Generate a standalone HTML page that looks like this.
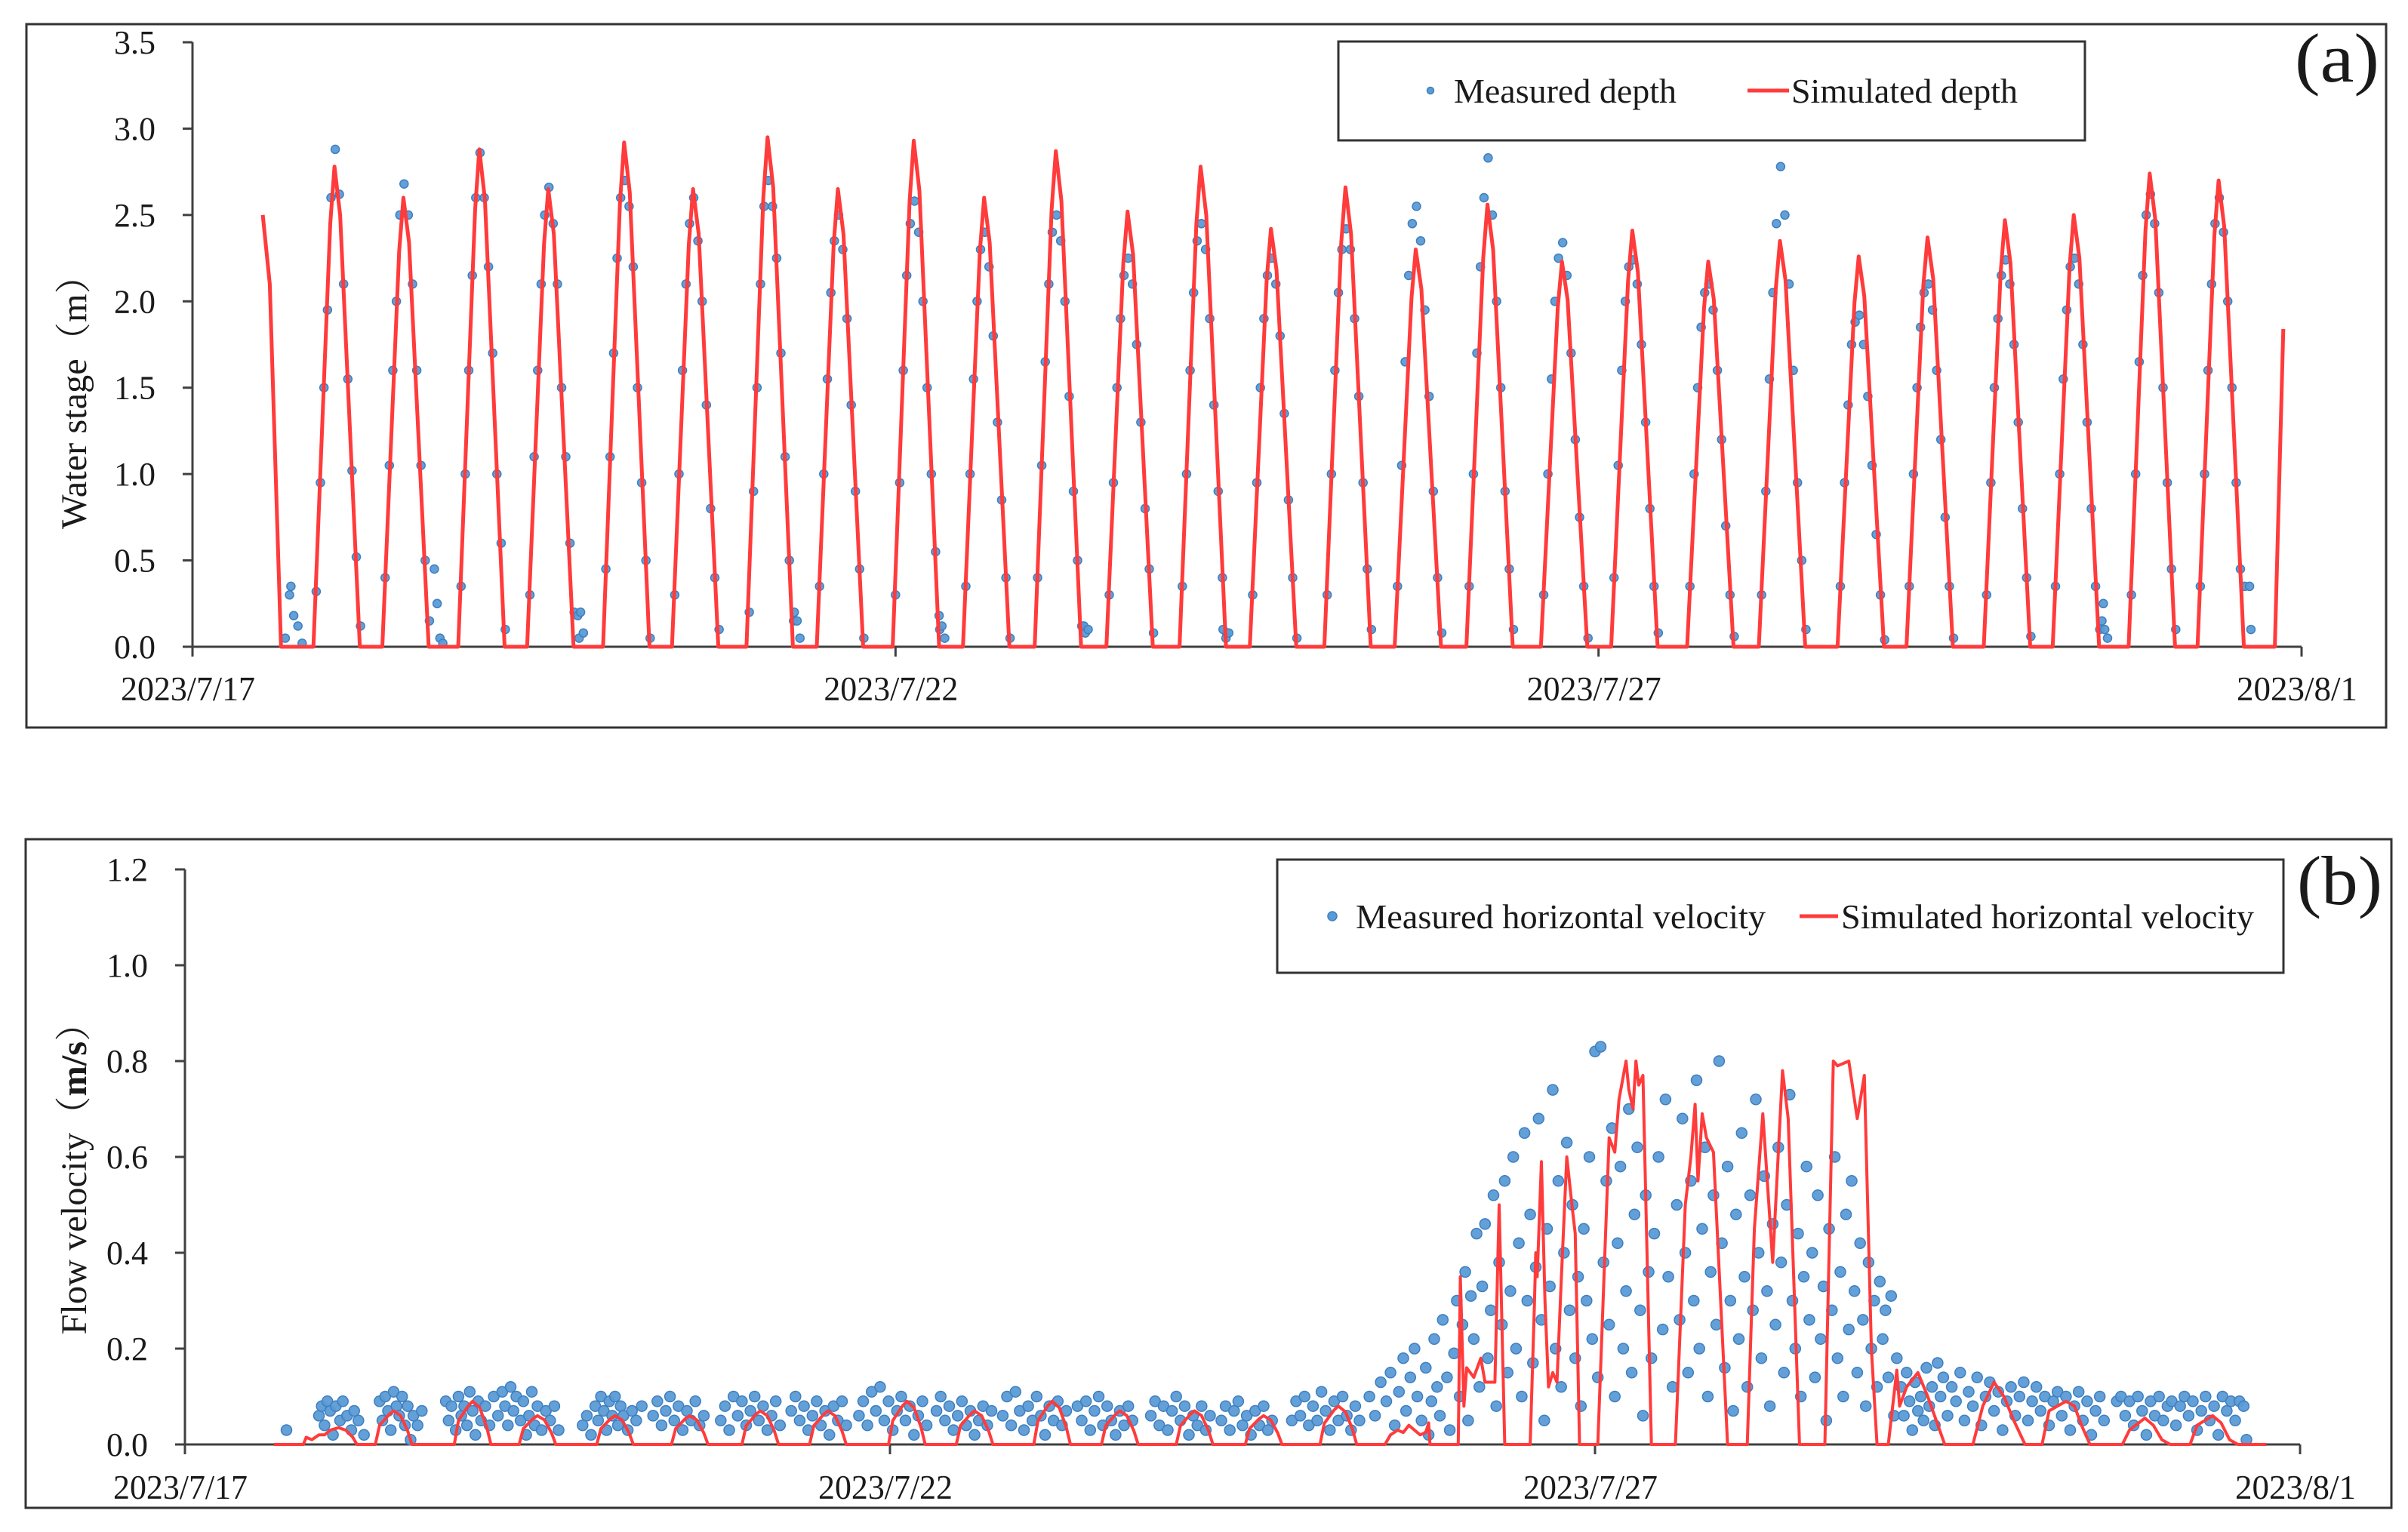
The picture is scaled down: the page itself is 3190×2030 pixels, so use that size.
<!DOCTYPE html>
<html><head><meta charset="utf-8"><title>Water stage and flow velocity</title>
<style>
html,body{margin:0;padding:0;background:#fff;}
svg{display:block;}
text{font-family:"Liberation Serif","Noto Serif CJK SC",serif;fill:#1a1a1a;}
</style></head>
<body>
<svg id="chart" width="3190" height="2030" viewBox="0 0 3190 2030" xmlns="http://www.w3.org/2000/svg">
  <rect x="0" y="0" width="3190" height="2030" fill="#fff"/>
  <g id="panelA">
    <rect x="35" y="32" width="3126" height="932" fill="none" stroke="#333" stroke-width="3"/>
    <text x="3040" y="108" font-size="92" textLength="112" lengthAdjust="spacingAndGlyphs">(a)</text>
    <text transform="translate(114,521) rotate(-90)" text-anchor="middle" font-size="48" textLength="360" lengthAdjust="spacingAndGlyphs">Water stage（m）</text>
    <g id="gA"></g>
    <g>
      <rect x="1773" y="55" width="989" height="131" fill="#fff" stroke="#333" stroke-width="3"/>
      <circle cx="1895" cy="120" r="4.5" fill="#5b9bd5" stroke="#3f7fc0" stroke-width="1.5"/>
      <text x="1926" y="136" font-size="46" textLength="295" lengthAdjust="spacingAndGlyphs">Measured depth</text>
      <line x1="2315" y1="120" x2="2370" y2="120" stroke="#ff3b3b" stroke-width="5"/>
      <text x="2373" y="136" font-size="46" textLength="300" lengthAdjust="spacingAndGlyphs">Simulated depth</text>
    </g>
  </g>
  <g id="panelB">
    <rect x="34" y="1112" width="3134" height="886" fill="none" stroke="#333" stroke-width="3"/>
    <text x="3043" y="1198" font-size="92" textLength="113" lengthAdjust="spacingAndGlyphs">(b)</text>
    <text transform="translate(114,1550) rotate(-90)" text-anchor="middle" font-size="48" textLength="437" lengthAdjust="spacingAndGlyphs">Flow velocity（<tspan font-weight="bold">m/s</tspan>）</text>
    <g id="gB"></g>
    <g>
      <rect x="1692" y="1139" width="1333" height="150" fill="#fff" stroke="#333" stroke-width="3"/>
      <circle cx="1765" cy="1214" r="6" fill="#5b9bd5" stroke="#3f7fc0" stroke-width="1.5"/>
      <text x="1796" y="1230" font-size="46" textLength="543" lengthAdjust="spacingAndGlyphs">Measured horizontal velocity</text>
      <line x1="2384" y1="1214" x2="2435" y2="1214" stroke="#ff3b3b" stroke-width="5"/>
      <text x="2439" y="1230" font-size="46" textLength="547" lengthAdjust="spacingAndGlyphs">Simulated horizontal velocity</text>
    </g>
  </g>
</svg>
<script>
// ---- data (x in days since 2023/7/17 00:00) ----
const dateLabels = ["2023/7/17","2023/7/22","2023/7/27","2023/8/1"];
const dateTicks = [0,5,10,15];
const depthTicks = [0,0.5,1.0,1.5,2.0,2.5,3.0,3.5];
const depthTickLabels = ["0.0","0.5","1.0","1.5","2.0","2.5","3.0","3.5"];
const velTicks = [0,0.2,0.4,0.6,0.8,1.0,1.2];
const velTickLabels = ["0.0","0.2","0.4","0.6","0.8","1.0","1.2"];

const simDepth = [[0.50,2.5],[0.55,2.1],[0.63,0],
[0.86,0],[0.98,2.45],[1.01,2.78],[1.05,2.50],[1.19,0],
[1.35,0],[1.47,2.29],[1.50,2.60],[1.54,2.34],[1.68,0],
[1.89,0],[2.01,2.53],[2.04,2.88],[2.08,2.59],[2.22,0],
[2.38,0],[2.50,2.33],[2.53,2.65],[2.57,2.39],[2.71,0],
[2.92,0],[3.04,2.57],[3.07,2.92],[3.11,2.63],[3.25,0],
[3.41,0],[3.53,2.33],[3.56,2.65],[3.60,2.39],[3.74,0],
[3.94,0],[4.06,2.60],[4.09,2.95],[4.13,2.66],[4.27,0],
[4.44,0],[4.56,2.33],[4.59,2.65],[4.63,2.39],[4.77,0],
[4.98,0],[5.10,2.58],[5.13,2.93],[5.17,2.64],[5.31,0],
[5.48,0],[5.60,2.29],[5.63,2.60],[5.67,2.34],[5.81,0],
[5.99,0],[6.11,2.53],[6.14,2.87],[6.18,2.58],[6.32,0],
[6.50,0],[6.62,2.22],[6.65,2.52],[6.69,2.27],[6.83,0],
[7.02,0],[7.14,2.45],[7.17,2.78],[7.21,2.50],[7.35,0],
[7.52,0],[7.64,2.13],[7.67,2.42],[7.71,2.18],[7.85,0],
[8.05,0],[8.17,2.34],[8.20,2.66],[8.24,2.39],[8.38,0],
[8.55,0],[8.67,2.02],[8.70,2.30],[8.74,2.07],[8.88,0],
[9.06,0],[9.18,2.25],[9.21,2.56],[9.25,2.30],[9.39,0],
[9.59,0],[9.71,1.96],[9.74,2.23],[9.78,2.01],[9.92,0],
[10.09,0],[10.21,2.12],[10.24,2.41],[10.28,2.17],[10.42,0],
[10.63,0],[10.75,1.96],[10.78,2.23],[10.82,2.01],[10.96,0],
[11.14,0],[11.26,2.07],[11.29,2.35],[11.33,2.12],[11.47,0],
[11.70,0],[11.82,1.99],[11.85,2.26],[11.89,2.03],[12.03,0],
[12.19,0],[12.31,2.09],[12.34,2.37],[12.38,2.13],[12.52,0],
[12.74,0],[12.86,2.17],[12.89,2.47],[12.93,2.22],[13.07,0],
[13.23,0],[13.35,2.20],[13.38,2.50],[13.42,2.25],[13.56,0],
[13.77,0],[13.89,2.41],[13.92,2.74],[13.96,2.47],[14.10,0],
[14.26,0],[14.38,2.38],[14.41,2.70],[14.45,2.43],[14.59,0],
[14.81,0],[14.87,1.84]];

const measDepth = [
[0.66,0.05],[0.69,0.30],[0.70,0.35],[0.72,0.18],[0.75,0.12],[0.78,0.02],
[0.88,0.32],[0.91,0.95],[0.935,1.5],[0.96,1.95],[0.985,2.6],[1.015,2.88],[1.045,2.62],[1.075,2.1],[1.105,1.55],[1.135,1.02],[1.165,0.52],[1.195,0.12],
[1.37,0.4],[1.40,1.05],[1.425,1.6],[1.45,2.0],[1.475,2.5],[1.505,2.68],[1.535,2.5],[1.565,2.1],[1.595,1.6],[1.625,1.05],[1.655,0.5],[1.685,0.15],
[1.72,0.45],[1.74,0.25],[1.76,0.05],[1.78,0.02],
[1.91,0.35],[1.94,1.0],[1.965,1.6],[1.99,2.15],[2.015,2.6],[2.045,2.86],[2.075,2.6],[2.105,2.2],[2.135,1.7],[2.165,1.0],[2.195,0.6],[2.225,0.1],
[2.40,0.3],[2.43,1.1],[2.455,1.6],[2.48,2.1],[2.505,2.5],[2.535,2.66],[2.565,2.45],[2.595,2.1],[2.625,1.5],[2.655,1.1],[2.685,0.6],[2.715,0.2],
[2.74,0.18],[2.75,0.05],[2.76,0.2],[2.78,0.08],
[2.94,0.45],[2.97,1.1],[2.995,1.7],[3.02,2.25],[3.045,2.6],[3.075,2.7],[3.105,2.55],[3.135,2.2],[3.165,1.5],[3.195,0.95],[3.225,0.5],[3.255,0.05],
[3.43,0.3],[3.46,1.0],[3.485,1.6],[3.51,2.1],[3.535,2.45],[3.565,2.6],[3.595,2.35],[3.625,2.0],[3.655,1.4],[3.685,0.8],[3.715,0.4],[3.745,0.1],
[3.96,0.2],[3.99,0.9],[4.015,1.5],[4.04,2.1],[4.065,2.55],[4.095,2.7],[4.125,2.55],[4.155,2.25],[4.185,1.7],[4.215,1.1],[4.245,0.5],[4.275,0.15],
[4.28,0.2],[4.30,0.15],[4.32,0.05],
[4.46,0.35],[4.49,1.0],[4.515,1.55],[4.54,2.05],[4.565,2.35],[4.595,2.5],[4.625,2.3],[4.655,1.9],[4.685,1.4],[4.715,0.9],[4.745,0.45],[4.775,0.05],
[5.00,0.3],[5.03,0.95],[5.055,1.6],[5.08,2.15],[5.105,2.45],[5.135,2.58],[5.165,2.4],[5.195,2.0],[5.225,1.5],[5.255,1.0],[5.285,0.55],[5.315,0.1],
[5.31,0.18],[5.33,0.12],[5.35,0.05],
[5.50,0.35],[5.53,1.0],[5.555,1.55],[5.58,2.0],[5.605,2.3],[5.635,2.4],[5.665,2.2],[5.695,1.8],[5.725,1.3],[5.755,0.85],[5.785,0.4],[5.815,0.05],
[6.01,0.4],[6.04,1.05],[6.065,1.65],[6.09,2.1],[6.115,2.4],[6.145,2.5],[6.175,2.35],[6.205,2.0],[6.235,1.45],[6.265,0.9],[6.295,0.5],[6.325,0.12],
[6.34,0.12],[6.35,0.08],[6.37,0.1],
[6.52,0.3],[6.55,0.95],[6.575,1.5],[6.60,1.9],[6.625,2.15],[6.655,2.25],[6.685,2.1],[6.715,1.75],[6.745,1.3],[6.775,0.8],[6.805,0.45],[6.835,0.08],
[7.04,0.35],[7.07,1.0],[7.095,1.6],[7.12,2.05],[7.145,2.35],[7.175,2.45],[7.205,2.3],[7.235,1.9],[7.265,1.4],[7.295,0.9],[7.325,0.4],[7.355,0.08],
[7.33,0.1],[7.35,0.05],[7.37,0.08],
[7.54,0.3],[7.57,0.95],[7.595,1.5],[7.62,1.9],[7.645,2.15],[7.675,2.25],[7.705,2.1],[7.735,1.8],[7.765,1.35],[7.795,0.85],[7.825,0.4],[7.855,0.05],
[8.07,0.3],[8.10,1.0],[8.125,1.6],[8.15,2.05],[8.175,2.3],[8.205,2.42],[8.235,2.3],[8.265,1.9],[8.295,1.45],[8.325,0.95],[8.355,0.45],[8.385,0.1],
[8.57,0.35],[8.60,1.05],[8.625,1.65],[8.65,2.15],[8.675,2.45],[8.705,2.55],[8.735,2.35],[8.765,1.95],[8.795,1.45],[8.825,0.9],[8.855,0.4],[8.885,0.08],
[9.08,0.35],[9.11,1.0],[9.135,1.7],[9.16,2.2],[9.185,2.6],[9.215,2.83],[9.245,2.5],[9.275,2.0],[9.305,1.5],[9.335,0.9],[9.365,0.45],[9.395,0.1],
[9.61,0.3],[9.64,1.0],[9.665,1.55],[9.69,2.0],[9.715,2.25],[9.745,2.34],[9.775,2.15],[9.805,1.7],[9.835,1.2],[9.865,0.75],[9.895,0.35],[9.925,0.05],
[10.11,0.4],[10.14,1.05],[10.165,1.6],[10.19,2.0],[10.215,2.2],[10.245,2.24],[10.275,2.1],[10.305,1.75],[10.335,1.3],[10.365,0.8],[10.395,0.35],[10.425,0.08],
[10.65,0.35],[10.68,1.0],[10.705,1.5],[10.73,1.85],[10.755,2.05],[10.785,2.1],[10.815,1.95],[10.845,1.6],[10.875,1.2],[10.905,0.7],[10.935,0.3],[10.965,0.06],
[11.16,0.3],[11.19,0.9],[11.215,1.55],[11.24,2.05],[11.265,2.45],[11.295,2.78],[11.325,2.5],[11.355,2.1],[11.385,1.6],[11.415,0.95],[11.445,0.5],[11.475,0.1],
[11.72,0.35],[11.75,0.95],[11.775,1.4],[11.80,1.75],[11.825,1.88],[11.855,1.92],[11.885,1.75],[11.915,1.45],[11.945,1.05],[11.975,0.65],[12.005,0.3],[12.035,0.04],
[12.21,0.35],[12.24,1.0],[12.265,1.5],[12.29,1.85],[12.315,2.05],[12.345,2.1],[12.375,1.95],[12.405,1.6],[12.435,1.2],[12.465,0.75],[12.495,0.35],[12.525,0.05],
[12.76,0.3],[12.79,0.95],[12.815,1.5],[12.84,1.9],[12.865,2.15],[12.895,2.24],[12.925,2.1],[12.955,1.75],[12.985,1.3],[13.015,0.8],[13.045,0.4],[13.075,0.06],
[13.25,0.35],[13.28,1.0],[13.305,1.55],[13.33,1.95],[13.355,2.2],[13.385,2.25],[13.415,2.1],[13.445,1.75],[13.475,1.3],[13.505,0.8],[13.535,0.35],[13.565,0.1],
[13.58,0.15],[13.59,0.25],[13.60,0.1],[13.62,0.05],
[13.79,0.3],[13.82,1.0],[13.845,1.65],[13.87,2.15],[13.895,2.5],[13.925,2.62],[13.955,2.45],[13.985,2.05],[14.015,1.5],[14.045,0.95],[14.075,0.45],[14.105,0.1],
[14.28,0.35],[14.31,1.0],[14.335,1.6],[14.36,2.1],[14.385,2.45],[14.415,2.6],[14.445,2.4],[14.475,2.0],[14.505,1.5],[14.535,0.95],[14.565,0.45],[14.595,0.35],
[14.63,0.35],[14.64,0.1]];

const simVel = [[0.63,0],[0.84,0],[0.86,0.015],[0.90,0.01],[0.95,0.02],
[0.99,0.02],[1.03,0.03],[1.09,0.035],[1.14,0.03],[1.19,0.015],[1.22,0],
[1.35,0],[1.38,0.04],[1.45,0.063],[1.48,0.07],[1.53,0.06],[1.58,0.028],[1.61,0],
[1.91,0],[1.94,0.05],[2.01,0.081],[2.04,0.09],[2.09,0.077],[2.14,0.036],[2.17,0],
[2.37,0],[2.40,0.033],[2.47,0.054],[2.50,0.06],[2.55,0.051],[2.60,0.024],[2.63,0],
[2.92,0],[2.95,0.033],[3.02,0.054],[3.05,0.06],[3.10,0.051],[3.15,0.024],[3.18,0],
[3.45,0],[3.48,0.033],[3.55,0.054],[3.58,0.06],[3.63,0.051],[3.68,0.024],[3.71,0],
[3.95,0],[3.98,0.039],[4.05,0.063],[4.08,0.07],[4.13,0.06],[4.18,0.028],[4.21,0],
[4.43,0],[4.46,0.039],[4.53,0.063],[4.56,0.07],[4.61,0.06],[4.66,0.028],[4.69,0],
[4.99,0],[5.02,0.05],[5.09,0.081],[5.12,0.09],[5.17,0.077],[5.22,0.036],[5.25,0],
[5.47,0],[5.50,0.039],[5.57,0.063],[5.60,0.07],[5.65,0.06],[5.70,0.028],[5.73,0],
[6.02,0],[6.05,0.05],[6.12,0.081],[6.15,0.09],[6.20,0.077],[6.25,0.036],[6.28,0],
[6.50,0],[6.53,0.039],[6.60,0.063],[6.63,0.07],[6.68,0.06],[6.73,0.028],[6.76,0],
[7.03,0],[7.06,0.039],[7.13,0.063],[7.16,0.07],[7.21,0.06],[7.26,0.028],[7.29,0],
[7.52,0],[7.55,0.033],[7.62,0.054],[7.65,0.06],[7.70,0.051],[7.75,0.024],[7.78,0],
[8.05,0],[8.08,0.044],[8.15,0.072],[8.18,0.08],[8.23,0.068],[8.28,0.032],[8.31,0],
[8.51,0],[8.55,0.02],[8.60,0.03],[8.64,0.025],[8.68,0.04],[8.72,0.03],[8.76,0.02],[8.80,0.025],[8.82,0.045],[8.83,0],
[9.03,0],[9.045,0.35],[9.07,0.08],[9.09,0.16],[9.14,0.14],[9.19,0.18],[9.22,0.13],[9.29,0.13],[9.32,0.50],[9.36,0],
[9.54,0],[9.57,0.29],[9.58,0.40],[9.59,0.35],[9.62,0.59],[9.645,0.30],[9.67,0.12],[9.70,0.15],[9.73,0.13],[9.76,0.34],[9.80,0.60],[9.84,0.49],[9.86,0.44],[9.89,0],
[10.02,0],[10.10,0.64],[10.14,0.61],[10.17,0.72],[10.22,0.80],[10.24,0.74],[10.27,0.70],[10.29,0.80],[10.31,0.75],[10.34,0.77],[10.40,0],
[10.57,0],[10.64,0.50],[10.68,0.60],[10.71,0.71],[10.73,0.55],[10.76,0.69],[10.79,0.64],[10.84,0.61],[10.94,0],
[11.08,0],[11.13,0.45],[11.19,0.69],[11.26,0.38],[11.33,0.78],[11.37,0.68],[11.45,0],
[11.63,0],[11.69,0.80],[11.72,0.79],[11.80,0.80],[11.86,0.68],[11.91,0.77],[11.96,0.2],[12.00,0],
[12.08,0],[12.14,0.155],[12.16,0.08],[12.21,0.12],[12.29,0.15],[12.36,0.10],[12.48,0],
[12.68,0],[12.75,0.08],[12.83,0.13],[12.90,0.10],[12.97,0.05],[13.05,0],
[13.17,0],[13.22,0.07],[13.34,0.09],[13.40,0.08],[13.45,0.04],[13.51,0],
[13.74,0],[13.79,0.03],[13.90,0.055],[13.96,0.04],[14.02,0.01],[14.08,0],
[14.22,0],[14.27,0.04],[14.38,0.06],[14.44,0.045],[14.50,0.01],[14.56,0],[14.76,0]];

const measVel = [
[0.72,.03],
[0.95,.06],[0.97,.08],[0.99,.04],[1.01,.09],[1.03,.07],[1.05,.02],[1.07,.08],[1.10,.05],[1.12,.09],[1.15,.06],[1.18,.03],[1.20,.07],[1.23,.05],[1.27,.02],
[1.38,.09],[1.40,.05],[1.42,.1],[1.44,.07],[1.46,.03],[1.48,.11],[1.50,.08],[1.52,.06],[1.54,.1],[1.56,.04],[1.58,.08],[1.60,.01],[1.62,.06],[1.65,.04],[1.68,.07],
[1.85,.09],[1.87,.05],[1.89,.08],[1.92,.03],[1.94,.1],[1.96,.06],[1.98,.08],[2.00,.04],[2.02,.11],[2.04,.07],[2.06,.02],[2.08,.09],[2.10,.05],[2.13,.08],[2.16,.04],[2.19,.1],[2.22,.06],
[2.25,.11],[2.27,.08],[2.29,.04],[2.31,.12],[2.33,.07],[2.35,.1],[2.38,.05],[2.40,.09],[2.42,.02],[2.44,.06],[2.46,.11],[2.48,.04],[2.50,.08],[2.53,.03],[2.56,.07],[2.59,.05],[2.62,.08],[2.65,.03],
[2.82,.04],[2.85,.06],[2.88,.02],[2.91,.08],[2.93,.05],[2.95,.1],[2.97,.07],[2.99,.03],[3.01,.09],[3.03,.06],[3.05,.1],[3.07,.04],[3.09,.08],[3.11,.06],[3.14,.03],[3.17,.07],[3.20,.05],[3.24,.08],
[3.32,.06],[3.35,.09],[3.38,.04],[3.41,.07],[3.44,.1],[3.47,.05],[3.50,.08],[3.53,.03],[3.56,.07],[3.59,.05],[3.62,.09],[3.65,.04],[3.68,.06],
[3.80,.05],[3.83,.08],[3.86,.03],[3.89,.1],[3.92,.06],[3.95,.09],[3.98,.04],[4.01,.07],[4.04,.1],[4.07,.05],[4.10,.08],[4.13,.03],[4.16,.06],[4.19,.09],[4.22,.04],
[4.30,.07],[4.33,.1],[4.36,.05],[4.39,.08],[4.42,.03],[4.45,.06],[4.48,.09],[4.51,.04],[4.54,.07],[4.57,.02],[4.60,.08],[4.63,.05],[4.66,.09],[4.69,.04],
[4.78,.06],[4.81,.09],[4.84,.04],[4.87,.11],[4.90,.07],[4.93,.12],[4.96,.05],[4.99,.09],[5.02,.03],[5.05,.07],[5.08,.1],[5.11,.05],[5.14,.08],[5.17,.02],[5.20,.06],[5.23,.09],[5.26,.04],
[5.33,.07],[5.36,.1],[5.39,.05],[5.42,.08],[5.45,.03],[5.48,.06],[5.51,.09],[5.54,.04],[5.57,.07],[5.60,.02],[5.63,.05],[5.66,.08],[5.69,.04],[5.72,.07],
[5.80,.06],[5.83,.1],[5.86,.04],[5.89,.11],[5.92,.07],[5.95,.03],[5.98,.08],[6.01,.05],[6.04,.1],[6.07,.06],[6.10,.02],[6.13,.08],[6.16,.05],[6.19,.09],[6.22,.04],[6.25,.07],
[6.33,.08],[6.36,.05],[6.39,.09],[6.42,.03],[6.45,.07],[6.48,.1],[6.51,.04],[6.54,.08],[6.57,.05],[6.60,.02],[6.63,.07],[6.66,.04],[6.69,.08],[6.72,.05],
[6.85,.06],[6.88,.09],[6.91,.04],[6.94,.08],[6.97,.03],[7.00,.07],[7.03,.1],[7.06,.05],[7.09,.08],[7.12,.02],[7.15,.06],[7.18,.04],[7.21,.08],[7.24,.03],[7.27,.06],
[7.35,.05],[7.38,.08],[7.41,.03],[7.44,.07],[7.47,.09],[7.50,.04],[7.53,.06],[7.56,.02],[7.59,.07],[7.62,.04],[7.65,.08],[7.68,.03],[7.71,.05],
[7.85,.05],[7.88,.09],[7.91,.06],[7.94,.1],[7.97,.04],[8.00,.08],[8.03,.05],[8.06,.11],[8.09,.07],[8.12,.03],[8.15,.09],[8.18,.05],[8.21,.1],[8.24,.06],[8.27,.03],[8.30,.08],[8.33,.05],
[8.40,.1],[8.44,.06],[8.48,.13],[8.52,.09],[8.55,.15],[8.58,.04],[8.61,.11],[8.64,.18],[8.66,.07],[8.69,.14],[8.72,.2],[8.74,.1],[8.77,.05],[8.80,.16],[8.82,.02],[8.84,.09],[8.86,.22],[8.88,.12],[8.90,.06],[8.92,.26],[8.95,.14],[8.97,.03],
[9.00,.19],[9.02,.30],[9.04,.10],[9.06,.25],[9.08,.36],[9.10,.05],[9.12,.31],[9.14,.22],[9.16,.44],[9.18,.12],[9.20,.33],[9.22,.46],[9.24,.18],[9.26,.28],[9.28,.52],[9.30,.08],[9.32,.38],[9.34,.25],[9.36,.55],[9.38,.15],[9.40,.32],[9.42,.60],[9.44,.20],[9.46,.42],[9.48,.10],[9.50,.65],[9.52,.30],[9.54,.48],[9.56,.17],[9.58,.37],[9.60,.68],[9.62,.26],[9.64,.05],[9.66,.45],[9.68,.33],[9.70,.74],[9.72,.20],[9.74,.55],[9.76,.12],[9.78,.40],[9.80,.63],[9.82,.28],[9.84,.50],[9.86,.18],[9.88,.35],[9.90,.08],[9.92,.45],[9.94,.30],[9.96,.60],[9.98,.22],
[10.00,.82],[10.02,.14],[10.04,.83],[10.06,.38],[10.08,.55],[10.10,.25],[10.12,.66],[10.14,.10],[10.16,.42],[10.18,.58],[10.20,.20],[10.22,.32],[10.24,.70],[10.26,.15],[10.28,.48],[10.30,.62],[10.32,.28],[10.34,.06],[10.36,.52],[10.38,.36],[10.40,.18],[10.42,.44],[10.45,.60],[10.48,.24],[10.50,.72],[10.52,.35],[10.55,.12],[10.58,.50],[10.60,.26],[10.62,.68],[10.64,.40],[10.66,.15],[10.68,.55],[10.70,.30],[10.72,.76],[10.74,.20],[10.76,.45],[10.78,.62],[10.80,.10],[10.82,.36],[10.84,.52],[10.86,.25],[10.88,.80],[10.90,.42],[10.92,.16],[10.94,.58],[10.96,.30],[10.98,.07],
[11.00,.48],[11.02,.22],[11.04,.65],[11.06,.35],[11.08,.12],[11.10,.52],[11.12,.28],[11.14,.72],[11.16,.40],[11.18,.18],[11.20,.56],[11.22,.32],[11.24,.08],[11.26,.46],[11.28,.25],[11.30,.62],[11.32,.38],[11.34,.15],[11.36,.50],[11.38,.73],[11.40,.30],[11.42,.20],[11.44,.44],[11.46,.10],[11.48,.35],[11.50,.58],[11.52,.26],[11.54,.40],[11.56,.14],[11.58,.52],[11.60,.22],[11.62,.33],[11.64,.05],[11.66,.45],[11.68,.28],[11.70,.60],[11.72,.18],[11.74,.36],[11.76,.10],[11.78,.48],[11.80,.24],[11.82,.55],[11.84,.32],[11.86,.15],[11.88,.42],[11.90,.26],[11.92,.08],[11.94,.38],[11.96,.20],[11.98,.30],
[12.00,.12],[12.02,.34],[12.04,.22],[12.06,.28],[12.08,.14],[12.10,.31],[12.12,.06],[12.14,.18],
[12.17,.12],[12.19,.06],[12.21,.15],[12.23,.09],[12.25,.03],[12.27,.13],[12.29,.07],[12.31,.1],[12.33,.05],[12.35,.16],[12.37,.08],[12.39,.12],[12.41,.04],[12.43,.17],[12.45,.1],[12.47,.14],[12.50,.06],[12.53,.12],[12.56,.09],[12.59,.15],[12.62,.05],[12.65,.11],[12.68,.08],[12.71,.14],[12.74,.04],[12.77,.1],[12.80,.13],[12.83,.07],[12.86,.11],[12.89,.03],[12.92,.09],[12.95,.12],[12.98,.06],
[13.01,.1],[13.04,.13],[13.07,.05],[13.10,.09],[13.13,.12],[13.16,.07],[13.19,.1],[13.22,.04],[13.25,.09],[13.28,.11],[13.31,.06],[13.34,.1],[13.37,.03],[13.40,.08],[13.43,.11],[13.46,.05],[13.49,.09],[13.52,.02],[13.55,.07],[13.58,.1],[13.61,.05],
[13.70,.09],[13.73,.1],[13.76,.06],[13.79,.09],[13.82,.04],[13.85,.1],[13.88,.07],[13.91,.02],[13.94,.09],[13.97,.06],[14.00,.1],[14.03,.05],[14.06,.08],[14.09,.09],[14.12,.04],[14.15,.08],[14.18,.1],[14.21,.06],[14.24,.09],[14.27,.03],[14.30,.07],[14.33,.1],[14.36,.05],[14.39,.08],[14.42,.02],[14.45,.1],[14.48,.07],[14.51,.09],[14.54,.05],[14.57,.09],[14.60,.08],[14.62,.01]];

// ---- rendering ----
const NS = "http://www.w3.org/2000/svg";
function mk(tag, attrs, parent){
  const e = document.createElementNS(NS, tag);
  for (const k in attrs) e.setAttribute(k, attrs[k]);
  parent.appendChild(e);
  return e;
}
function drawPanel(g, cfg){
  const xs = d => cfg.x0 + (d - 0) * (cfg.x1 - cfg.x0) / 15;
  const ys = v => cfg.yBase - v * (cfg.yBase - cfg.yTop) / cfg.vMax;
  const ya = mk("line", {x1:cfg.x0, y1:cfg.yTop, x2:cfg.x0, y2:cfg.yBase, stroke:"#404040", "stroke-width":3}, g);
  
  
  const xa = mk("line", {x1:cfg.x0, y1:cfg.yBase, x2:cfg.x1, y2:cfg.yBase, stroke:"#404040", "stroke-width":3}, g);
  
  
  cfg.yTicks.forEach((v, i) => {
    const t = mk("line", {x1:cfg.x0 - 13, y1:ys(v), x2:cfg.x0, y2:ys(v), stroke:"#404040", "stroke-width":3}, g);
    
    
    const l = mk("text", {x:cfg.labelRight, y:ys(v) + 15, "text-anchor":"end", "font-size":44}, g);
    l.textContent = cfg.yTickLabels[i];
    
    
  });
  dateTicks.forEach((d, i) => {
    const t = mk("line", {x1:xs(d), y1:cfg.yBase, x2:xs(d), y2:cfg.yBase + 13, stroke:"#404040", "stroke-width":3}, g);
    
    
    const l = mk("text", {x:xs(d) - 6, y:cfg.dateBaseline, "text-anchor":"middle", "font-size":45, textLength:178, lengthAdjust:"spacingAndGlyphs"}, g);
    if (i === 3) l.setAttribute("textLength", 160);
    l.textContent = dateLabels[i];
    
    
  });
  const dg = mk("g", {}, g);
  
  
  cfg.meas.forEach(p => {
    const c = mk("circle", {cx:xs(p[0]).toFixed(1), cy:ys(p[1]).toFixed(1), r:cfg.r, fill:"#5b9bd5", stroke:"#3f7fc0", "stroke-width":1.5, "fill-opacity":0.95}, dg);
    
    
  });
  const d = cfg.sim.map((p, i) => (i ? "L" : "M") + xs(p[0]).toFixed(1) + "," + ys(p[1]).toFixed(1)).join("");
  const path = mk("path", {d:d, fill:"none", stroke:"#ff3b3b", "stroke-width":cfg.lw, "stroke-linejoin":"round"}, g);
  
  
}
drawPanel(document.getElementById("gA"), {id:"depth", x0:255, x1:3049, yTop:56, yBase:857, vMax:3.5,
  yTicks:depthTicks, yTickLabels:depthTickLabels, labelRight:206, dateBaseline:928, meas:measDepth, sim:simDepth, r:5.5, lw:5});
drawPanel(document.getElementById("gB"), {id:"velocity", x0:245, x1:3047, yTop:1152, yBase:1914, vMax:1.2,
  yTicks:velTicks, yTickLabels:velTickLabels, labelRight:196, dateBaseline:1986, meas:measVel, sim:simVel, r:7, lw:4});
</script>
</body></html>
